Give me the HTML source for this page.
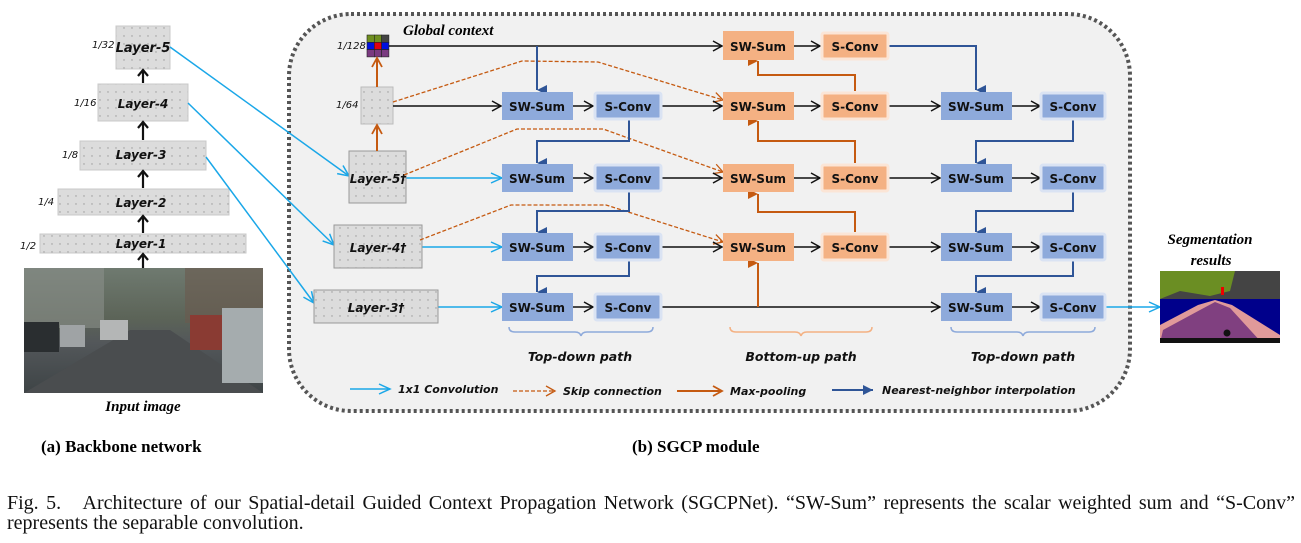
<!DOCTYPE html>
<html><head><meta charset="utf-8"><style>
body{margin:0;background:#fff;width:1301px;height:543px;overflow:hidden}
svg{display:block}
.ca{font-family:"DejaVu Sans","Liberation Sans",sans-serif;font-style:italic;font-weight:bold;fill:#111}
.bx{font-family:"DejaVu Sans","Liberation Sans",sans-serif;font-weight:bold;font-size:12px;fill:#111;text-anchor:middle}
.sm{font-family:"DejaVu Sans","Liberation Sans",sans-serif;font-style:italic;font-size:10px;fill:#111}
.ser{font-family:"Liberation Serif",serif}
.cap{position:absolute;left:7px;width:1288px;font-family:"Liberation Serif",serif;font-size:20px;color:#111;line-height:20px}
</style></head><body>
<svg width="1301" height="543" viewBox="0 0 1301 543" xmlns="http://www.w3.org/2000/svg">
<defs>
<pattern id="dots" width="8" height="8" patternUnits="userSpaceOnUse"><rect width="8" height="8" fill="#dcdcdc"/><circle cx="4" cy="4" r="0.7" fill="#999"/></pattern>
<marker id="ak" markerWidth="12" markerHeight="12" refX="10" refY="6" orient="auto" markerUnits="userSpaceOnUse"><path d="M1,1 L10,6 L1,11" fill="none" stroke="#111" stroke-width="1.5"/></marker>
<marker id="ac" markerWidth="14" markerHeight="12" refX="12" refY="6" orient="auto" markerUnits="userSpaceOnUse"><path d="M1,1 L12,6 L1,11" fill="none" stroke="#1aa7e8" stroke-width="1.5"/></marker>
<marker id="ab" markerWidth="10" markerHeight="12" refX="5" refY="10" orient="auto-start-reverse" markerUnits="userSpaceOnUse"><path d="M0,0 L5,10 L10,0 Z" fill="#2f5597"/></marker>
<marker id="abr" markerWidth="12" markerHeight="10" refX="10" refY="5" orient="auto" markerUnits="userSpaceOnUse"><path d="M0,0 L10,5 L0,10 Z" fill="#2f5597"/></marker>
<marker id="ao" markerWidth="10" markerHeight="12" refX="5" refY="10" orient="auto" markerUnits="userSpaceOnUse"><path d="M0,0 L5,10 L10,0 Z" fill="#c55a11"/></marker>
<marker id="aoo" markerWidth="12" markerHeight="12" refX="10" refY="6" orient="auto" markerUnits="userSpaceOnUse"><path d="M1,1 L10,6 L1,11" fill="none" stroke="#c55a11" stroke-width="1.8"/></marker>
<marker id="ad" markerWidth="12" markerHeight="12" refX="10" refY="6" orient="auto" markerUnits="userSpaceOnUse"><path d="M1,1 L10,6 L1,11" fill="none" stroke="#c55a11" stroke-width="1.3"/></marker>
<marker id="up" markerWidth="12" markerHeight="12" refX="6" refY="2" orient="0" markerUnits="userSpaceOnUse"><path d="M1,8 L6,2 L11,8" fill="none" stroke="#111" stroke-width="2.2"/></marker>
<linearGradient id="sky" x1="0" y1="0" x2="0" y2="1"><stop offset="0" stop-color="#6f7a70"/><stop offset="0.4" stop-color="#5c6458"/><stop offset="0.6" stop-color="#53575a"/><stop offset="1" stop-color="#3e4446"/></linearGradient>
</defs>

<rect x="289" y="14" width="841" height="397" rx="62" fill="#f1f1f1" stroke="#555" stroke-width="4" stroke-dasharray="3,3"/>

<rect x="116" y="26" width="54" height="43" fill="url(#dots)" stroke="#c8c8c8"/>
<rect x="98" y="84" width="90" height="37" fill="url(#dots)" stroke="#c8c8c8"/>
<rect x="80" y="141" width="126" height="29" fill="url(#dots)" stroke="#c8c8c8"/>
<rect x="58" y="189" width="171" height="26" fill="url(#dots)" stroke="#c8c8c8"/>
<rect x="40" y="234" width="206" height="19" fill="url(#dots)" stroke="#c8c8c8"/>
<text class="ca" x="143" y="52" font-size="13" text-anchor="middle">Layer-5</text>
<text class="ca" x="143" y="108" font-size="12" text-anchor="middle">Layer-4</text>
<text class="ca" x="141" y="159" font-size="12" text-anchor="middle">Layer-3</text>
<text class="ca" x="141" y="207" font-size="12" text-anchor="middle">Layer-2</text>
<text class="ca" x="141" y="248" font-size="12" text-anchor="middle">Layer-1</text>
<text class="sm" x="92" y="48">1/32</text>
<text class="sm" x="74" y="106">1/16</text>
<text class="sm" x="62" y="158">1/8</text>
<text class="sm" x="38" y="205">1/4</text>
<text class="sm" x="20" y="249">1/2</text>
<g stroke="#111" stroke-width="2.2" marker-end="url(#up)">
<line x1="143" y1="83" x2="143" y2="70"/>
<line x1="143" y1="140" x2="143" y2="122"/>
<line x1="143" y1="188" x2="143" y2="171"/>
<line x1="143" y1="233" x2="143" y2="216"/>
<line x1="143" y1="268" x2="143" y2="254"/>
</g>
<rect x="24" y="268" width="239" height="125" fill="url(#sky)"/>
<rect x="24" y="268" width="80" height="60" fill="#8b8f8a" opacity="0.6"/>
<rect x="185" y="268" width="78" height="55" fill="#6b5a4e" opacity="0.6"/>
<polygon points="24,393 263,393 170,330 130,330" fill="#4a4d4f"/>
<rect x="24" y="322" width="35" height="30" fill="#2a2e30"/>
<rect x="60" y="325" width="25" height="22" fill="#9fa3a5"/>
<rect x="100" y="320" width="28" height="20" fill="#b4b6b6"/>
<rect x="190" y="315" width="38" height="35" fill="#8a3b33"/>
<rect x="222" y="308" width="41" height="75" fill="#a5acae"/>
<text class="ser" x="143" y="411" font-size="15" font-style="italic" font-weight="bold" text-anchor="middle">Input image</text>

<g stroke="#1aa7e8" stroke-width="1.5" fill="none" marker-end="url(#ac)">
<line x1="170" y1="47" x2="349" y2="176"/>
<line x1="188" y1="103" x2="334" y2="245"/>
<line x1="206" y1="157" x2="314" y2="303"/>
<line x1="406" y1="178" x2="502" y2="178"/>
<line x1="422" y1="247" x2="502" y2="247"/>
<line x1="438" y1="307" x2="502" y2="307"/>
<line x1="1105" y1="307" x2="1160" y2="307"/>
</g>

<rect x="361" y="87" width="32" height="37" fill="url(#dots)" stroke="#bbb"/>
<rect x="349" y="151" width="57" height="52" fill="url(#dots)" stroke="#999"/>
<rect x="334" y="225" width="88" height="43" fill="url(#dots)" stroke="#999"/>
<rect x="314" y="290" width="124" height="33" fill="url(#dots)" stroke="#999"/>
<text class="ca" x="378" y="183" font-size="12" text-anchor="middle">Layer-5†</text>
<text class="ca" x="378" y="252" font-size="12" text-anchor="middle">Layer-4†</text>
<text class="ca" x="376" y="312" font-size="12" text-anchor="middle">Layer-3†</text>
<text class="sm" x="336" y="108">1/64</text>
<text class="sm" x="337" y="49">1/128</text>
<g stroke="#222" stroke-width="0.6">
<rect x="367" y="35" width="7.3" height="7.3" fill="#6f8f20"/><rect x="374.3" y="35" width="7.3" height="7.3" fill="#6f8f20"/><rect x="381.6" y="35" width="7.3" height="7.3" fill="#444"/>
<rect x="367" y="42.3" width="7.3" height="7.3" fill="#0010e0"/><rect x="374.3" y="42.3" width="7.3" height="7.3" fill="#e00010"/><rect x="381.6" y="42.3" width="7.3" height="7.3" fill="#0010e0"/>
<rect x="367" y="49.6" width="7.3" height="7.3" fill="#7a3a80"/><rect x="374.3" y="49.6" width="7.3" height="7.3" fill="#7a3a80"/><rect x="381.6" y="49.6" width="7.3" height="7.3" fill="#7a3a80"/>
</g>
<text x="403" y="35" class="ser" font-size="15" font-style="italic" font-weight="bold">Global context</text>

<g stroke="#c55a11" stroke-width="2" fill="none" marker-end="url(#aoo)">
<line x1="377" y1="87" x2="377" y2="58"/>
<line x1="377" y1="151" x2="377" y2="125"/>
</g>

<g stroke="#c55a11" stroke-width="1.3" fill="none" stroke-dasharray="4,2" marker-end="url(#ad)">
<polyline points="393,102 522,61 598,62 723,100"/>
<polyline points="404,175 517,129 603,129 723,172"/>
<polyline points="420,240 511,205 606,205 723,242"/>
</g>

<g stroke="#111" stroke-width="1.5" fill="none" marker-end="url(#ak)">
<line x1="389" y1="46" x2="722" y2="46"/>
<line x1="393" y1="106" x2="501" y2="106"/>
<line x1="573" y1="106" x2="593" y2="106"/><line x1="573" y1="178" x2="593" y2="178"/><line x1="573" y1="247" x2="593" y2="247"/><line x1="573" y1="307" x2="593" y2="307"/>
<line x1="662" y1="106" x2="722" y2="106"/><line x1="662" y1="178" x2="722" y2="178"/><line x1="662" y1="247" x2="722" y2="247"/>
<line x1="794" y1="46" x2="820" y2="46"/><line x1="794" y1="106" x2="820" y2="106"/><line x1="794" y1="178" x2="820" y2="178"/><line x1="794" y1="247" x2="820" y2="247"/>
<line x1="888" y1="106" x2="940" y2="106"/><line x1="888" y1="178" x2="940" y2="178"/><line x1="888" y1="247" x2="940" y2="247"/>
<line x1="662" y1="307" x2="940" y2="307"/>
<line x1="1012" y1="106" x2="1040" y2="106"/><line x1="1012" y1="178" x2="1040" y2="178"/><line x1="1012" y1="247" x2="1040" y2="247"/><line x1="1012" y1="307" x2="1040" y2="307"/>
</g>

<g stroke="#2f5597" stroke-width="2" fill="none" marker-end="url(#ab)">
<polyline points="537,46 537,90"/>
<polyline points="629,120 629,141 537,141 537,163"/>
<polyline points="629,192 629,211 537,211 537,232"/>
<polyline points="629,261 629,276 537,276 537,292"/>
<polyline points="888,46 976,46 976,90"/>
<polyline points="1073,120 1073,141 976,141 976,163"/>
<polyline points="1073,192 1073,211 976,211 976,232"/>
<polyline points="1073,261 1073,276 976,276 976,292"/>
</g>
<g stroke="#c55a11" stroke-width="2" fill="none" marker-end="url(#ao)">
<polyline points="855,91 855,75 758,75 758,61"/>
<polyline points="855,163 855,141 758,141 758,121"/>
<polyline points="855,232 855,212 758,212 758,194"/>
<polyline points="758,307 758,263"/>
</g>

<g fill="#8eaadb">
<rect x="502" y="92" width="71" height="28"/><rect x="502" y="164" width="71" height="28"/><rect x="502" y="233" width="71" height="28"/><rect x="502" y="293" width="71" height="28"/>
<rect x="941" y="92" width="71" height="28"/><rect x="941" y="164" width="71" height="28"/><rect x="941" y="233" width="71" height="28"/><rect x="941" y="293" width="71" height="28"/>
</g>
<g fill="#8eaadb" stroke="#dae3f3" stroke-width="3">
<rect x="595" y="93" width="66" height="26" rx="2"/><rect x="595" y="165" width="66" height="26" rx="2"/><rect x="595" y="234" width="66" height="26" rx="2"/><rect x="595" y="294" width="66" height="26" rx="2"/>
<rect x="1041" y="93" width="64" height="26" rx="2"/><rect x="1041" y="165" width="64" height="26" rx="2"/><rect x="1041" y="234" width="64" height="26" rx="2"/><rect x="1041" y="294" width="64" height="26" rx="2"/>
</g>
<g fill="#f4b183">
<rect x="723" y="31" width="71" height="29"/><rect x="723" y="92" width="71" height="28"/><rect x="723" y="164" width="71" height="28"/><rect x="723" y="233" width="71" height="28"/>
</g>
<g fill="#f4b183" stroke="#fbe5d6" stroke-width="3">
<rect x="822" y="33" width="66" height="26" rx="2"/><rect x="822" y="93" width="66" height="26" rx="2"/><rect x="822" y="165" width="66" height="26" rx="2"/><rect x="822" y="234" width="66" height="26" rx="2"/>
</g>
<g class="bx">
<text x="537" y="111">SW-Sum</text><text x="537" y="183">SW-Sum</text><text x="537" y="252">SW-Sum</text><text x="537" y="312">SW-Sum</text>
<text x="628" y="111">S-Conv</text><text x="628" y="183">S-Conv</text><text x="628" y="252">S-Conv</text><text x="628" y="312">S-Conv</text>
<text x="758" y="51">SW-Sum</text><text x="758" y="111">SW-Sum</text><text x="758" y="183">SW-Sum</text><text x="758" y="252">SW-Sum</text>
<text x="855" y="51">S-Conv</text><text x="855" y="111">S-Conv</text><text x="855" y="183">S-Conv</text><text x="855" y="252">S-Conv</text>
<text x="976" y="111">SW-Sum</text><text x="976" y="183">SW-Sum</text><text x="976" y="252">SW-Sum</text><text x="976" y="312">SW-Sum</text>
<text x="1073" y="111">S-Conv</text><text x="1073" y="183">S-Conv</text><text x="1073" y="252">S-Conv</text><text x="1073" y="312">S-Conv</text>
</g>

<g fill="none" stroke-width="1.5">
<path d="M509,327 q0,5 6,5 h60 q5,0 6,4 q1,-4 6,-4 h60 q6,0 6,-5" stroke="#8eaadb"/>
<path d="M730,327 q0,5 6,5 h59 q5,0 6,4 q1,-4 6,-4 h59 q6,0 6,-5" stroke="#f4b183"/>
<path d="M951,327 q0,5 6,5 h60 q5,0 6,4 q1,-4 6,-4 h60 q6,0 6,-5" stroke="#8eaadb"/>
</g>
<text class="ca" x="580" y="361" font-size="12.5" text-anchor="middle">Top-down path</text>
<text class="ca" x="801" y="361" font-size="12.5" text-anchor="middle">Bottom-up path</text>
<text class="ca" x="1023" y="361" font-size="12.5" text-anchor="middle">Top-down path</text>

<line x1="350" y1="389" x2="390" y2="389" stroke="#1aa7e8" stroke-width="1.5" marker-end="url(#ac)"/>
<text class="ca" x="398" y="393" font-size="11">1x1 Convolution</text>
<line x1="513" y1="391" x2="555" y2="391" stroke="#c55a11" stroke-width="1.3" stroke-dasharray="4,2" marker-end="url(#ad)"/>
<text class="ca" x="563" y="395" font-size="11">Skip connection</text>
<line x1="677" y1="391" x2="722" y2="391" stroke="#c55a11" stroke-width="2" marker-end="url(#aoo)"/>
<text class="ca" x="730" y="395" font-size="11">Max-pooling</text>
<line x1="832" y1="390" x2="873" y2="390" stroke="#2f5597" stroke-width="2" marker-end="url(#abr)"/>
<text class="ca" x="882" y="394" font-size="11">Nearest-neighbor interpolation</text>

<text class="ser" x="1210" y="244" font-size="15" font-style="italic" font-weight="bold" text-anchor="middle">Segmentation</text>
<text class="ser" x="1211" y="265" font-size="15" font-style="italic" font-weight="bold" text-anchor="middle">results</text>
<rect x="1160" y="271" width="120" height="72" fill="#444"/>
<path d="M1160,271 h75 l-5,20 l-20,5 l-30,-5 l-20,8 z" fill="#6b8e23"/>
<rect x="1160" y="299" width="120" height="44" fill="#00008b"/>
<polygon points="1160,325 1198,305 1215,300 1232,305 1280,335 1280,343 1160,343" fill="#e09a9a"/>
<polygon points="1163,330 1200,310 1215,302 1230,308 1262,343 1160,343" fill="#804080"/>
<rect x="1160" y="338" width="120" height="5" fill="#111"/>
<circle cx="1227" cy="333" r="3.5" fill="#111"/>
<rect x="1221" y="287" width="3" height="8" fill="#e00"/>

<text class="ser" x="41" y="452" font-size="17" font-weight="bold">(a) Backbone network</text>
<text class="ser" x="632" y="452" font-size="17" font-weight="bold">(b) SGCP module</text>
</svg>
<div class="cap" style="top:493px;text-align:justify;text-align-last:justify;white-space:nowrap">Fig. 5.&nbsp;&nbsp; Architecture of our Spatial-detail Guided Context Propagation Network (SGCPNet). “SW-Sum” represents the scalar weighted sum and “S-Conv”</div>
<div class="cap" style="top:513px">represents the separable convolution.</div>
</body></html>
